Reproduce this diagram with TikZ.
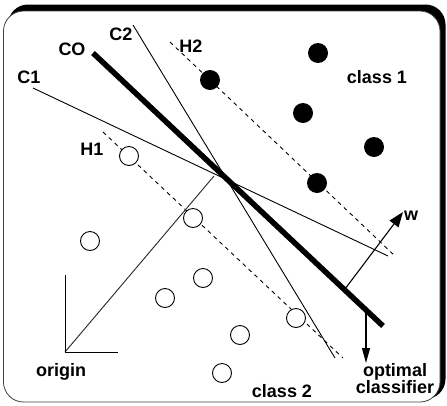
\documentclass[tikz,border=0pt]{standalone}
\usepackage{fontspec}
\setmainfont{Liberation Sans}
\usetikzlibrary{arrows.meta}
\begin{document}
\begin{tikzpicture}[x=1pt,y=-1pt,
  lbl/.style={font=\bfseries\fontsize{18}{16.5}\selectfont, inner sep=0pt, anchor=base},
  posdot/.style={circle,fill=black,minimum size=20pt,inner sep=0pt},
  negdot/.style={circle,draw=black,line width=0.9pt,fill=white,minimum size=19pt,inner sep=0pt},
  thinline/.style={line width=0.9pt},
  margin/.style={line width=0.9pt,dash pattern=on 4pt off 4pt},
  vec/.style={line width=1.1pt,-{Triangle[length=15pt,width=11pt]}}
  ]
\useasboundingbox (0,0) rectangle (447,405);
% frame with shadow
\fill[rounded corners=20pt] (8,4.5) rectangle (445.5,399);
\filldraw[fill=white,draw=black!75,line width=0.8pt,rounded corners=20pt] (3.5,11) rectangle (440,402);

% coordinates
\coordinate (co1) at (93,53);   \coordinate (co2) at (383,326);
\coordinate (c1a) at (33,88);   \coordinate (c1b) at (388,256);
\coordinate (c2a) at (133,25);  \coordinate (c2b) at (335,358);
\coordinate (h2a) at (170,42);  \coordinate (h2b) at (395,256);
\coordinate (h1a) at (103,132); \coordinate (h1b) at (343,358);
\coordinate (o) at (65,352); \coordinate (oy) at (65,275); \coordinate (ox) at (118,352);
\coordinate (foot) at (214,176);
\coordinate (wbase) at (345,289); \coordinate (wtip) at (403,212);
\coordinate (obase) at (366,310); \coordinate (otip) at (366,363);

% lines
\draw[margin] (h2a) -- (h2b);
\draw[margin] (h1a) -- (h1b);
\draw[thinline] (c1a) -- (c1b);
\draw[thinline] (c2a) -- (c2b);
\draw[line width=5.5pt] (co1) -- (co2);
\draw[thinline,black!85] (o) -- (foot);
\draw[thinline] (oy) -- (o) -- (ox);
\draw[vec] (wbase) -- (wtip);
\draw[line width=1.1pt,-{Triangle[length=15pt,width=8pt]}] (obase) -- (otip);

% class 1
\node[posdot] (p1) at (210,80) {};
\node[posdot] (p2) at (318,53) {};
\node[posdot] (p3) at (303,113) {};
\node[posdot] (p4) at (374,147) {};
\node[posdot] (p5) at (317,183) {};
% class 2
\node[negdot] (n1) at (129,156) {};
\node[negdot] (n2) at (193,218) {};
\node[negdot] (n3) at (90,241) {};
\node[negdot] (n4) at (203,278) {};
\node[negdot] (n5) at (165,298) {};
\node[negdot] (n6) at (296,318) {};
\node[negdot] (n7) at (240,335) {};
\node[negdot] (n8) at (222,373) {};

% labels
\node[lbl] (lCO) at (72,55) {CO};
\node[lbl] (lC2) at (121,40) {C2};
\node[lbl] (lH2) at (191,52) {H2};
\node[lbl] (lC1) at (29,83) {C1};
\node[lbl] (lcl1) at (377,83) {class 1};
\node[lbl] (lH1) at (92,155) {H1};
\node[lbl] (lw) at (411,220) {w};
\node[lbl] (lorig) at (61,376) {origin};
\node[lbl] (lcl2) at (282,397) {class 2};
\node[lbl] (lopt) at (395,376) {optimal};
\node[lbl] (lcls) at (395,393) {classifier};
\end{tikzpicture}
\end{document}
